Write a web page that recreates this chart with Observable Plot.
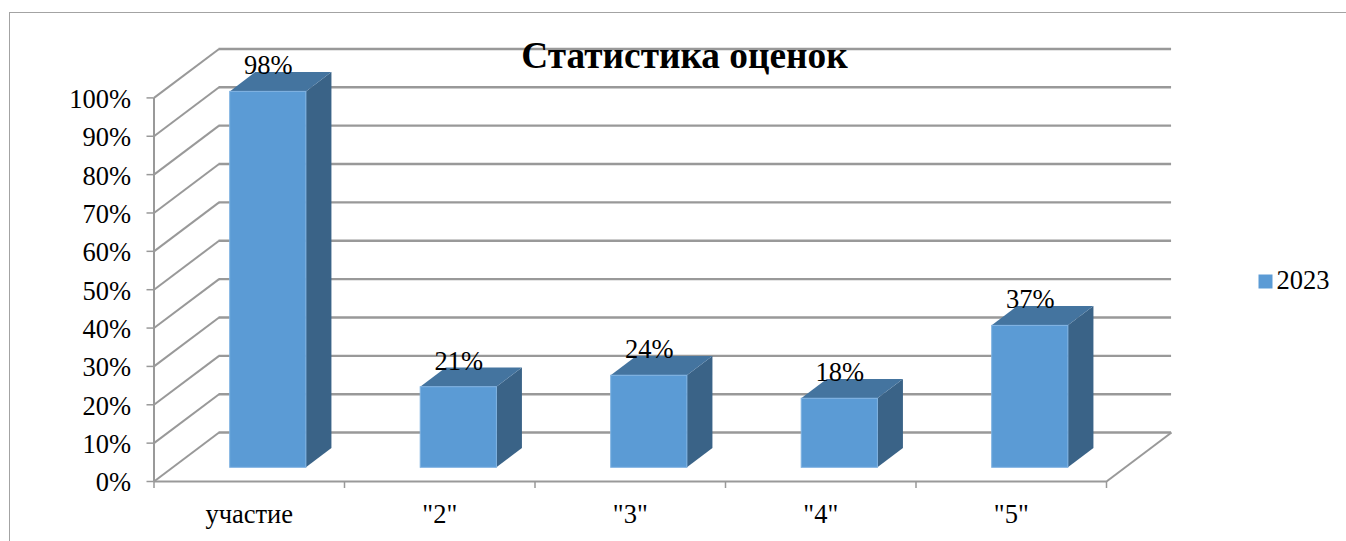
<!DOCTYPE html>
<html lang="ru">
<head>
<meta charset="utf-8">
<script src="https://cdn.jsdelivr.net/npm/d3@7"></script>
<script src="https://cdn.jsdelivr.net/npm/@observablehq/plot@0.6"></script>
<style>
  html, body { margin: 0; padding: 0; background: #fff; overflow: hidden; }
  #frame { position: absolute; left: 9px; top: 12px; right: 0; bottom: 0; border-left: 1.5px solid #a3a3a3; border-top: 1.5px solid #a3a3a3; }
  #chart { position: absolute; left: 0; top: 0; }
  #chart svg { background: transparent; display: block; }
</style>
</head>
<body>
<div id="frame"></div>
<div id="chart"></div>
<script>
const categories = ["участие", "\"2\"", "\"3\"", "\"4\"", "\"5\""];
const values = [98, 21, 24, 18, 37];
const seriesName = "2023";
const chartTitle = "Статистика оценок";
const yTicks = [0, 10, 20, 30, 40, 50, 60, 70, 80, 90, 100];

const font = "'Liberation Serif', 'Times New Roman', serif";
const colFront = "#5b9bd5", colTop = "#44749f", colSide = "#3a6387", colEdge = "#7fb2e2", colGrid = "#999999";

// 3D projection expressed in data units
const wallDx = 0.3415, wallDy = 12.76;   // floor depth
const barDx = 0.134, barDy = 5.03;       // bar depth
const barBase = 3.57, barInset = 0.4, barWidth = 0.4;

const bars = categories.map((c, i) => ({
  cat: c, v: values[i],
  x1: i + barInset, x2: i + barInset + barWidth,
  y1: barBase, y2: barBase + values[i]
}));
const sideFaces = bars.flatMap(b => [
  {cat: b.cat, x: b.x2, y1: b.y1, y2: b.y2},
  {cat: b.cat, x: b.x2 + barDx, y1: b.y1 + barDy, y2: b.y2 + barDy}
]);
const topFaces = bars.flatMap(b => [
  {cat: b.cat, y: b.y2, x1: b.x1, x2: b.x2},
  {cat: b.cat, y: b.y2 + barDy, x1: b.x1 + barDx, x2: b.x2 + barDx}
]);
const n = categories.length;

const plot = Plot.plot({
  width: 1346, height: 541,
  marginLeft: 153.5, marginRight: 240, marginTop: 97.4, marginBottom: 60,
  style: {fontFamily: font, background: "transparent", color: "#000", overflow: "visible"},
  x: {type: "linear", domain: [0, n]},
  y: {domain: [0, 100]},
  marks: [
    // back wall gridlines and side-wall diagonals
    Plot.ruleY(yTicks, {y: d => d + wallDy, x1: wallDx, x2: n + wallDx, stroke: colGrid, strokeWidth: 2.4}),
    Plot.link(yTicks, {x1: 0, y1: d => d, x2: wallDx, y2: d => d + wallDy, stroke: colGrid, strokeWidth: 2}),
    Plot.link([0], {x1: n, y1: 0, x2: n + wallDx, y2: wallDy, stroke: colGrid, strokeWidth: 2}),
    // axis lines
    Plot.ruleX([0], {y1: 0, y2: 100, stroke: colGrid, strokeWidth: 2}),
    Plot.ruleY([0], {x1: 0, x2: n, stroke: colGrid, strokeWidth: 2}),
    Plot.axisY({ticks: yTicks, tickFormat: () => "", tickSize: 7, stroke: colGrid, strokeWidth: 1.5, label: null}),
    Plot.axisY({ticks: yTicks, tickFormat: d => d + "%", tickSize: 0, tickPadding: 23, dy: 1.5, fontSize: 26.5, fill: "#000", label: null, marginLeft: 0}),
    Plot.axisX({ticks: d3.range(0, n + 1), tickFormat: () => "", tickSize: 7, stroke: colGrid, strokeWidth: 1.5, label: null}),
    Plot.axisX({ticks: categories.map((c, i) => i + 0.5), tickFormat: d => categories[d - 0.5], tickSize: 0, tickPadding: 23, fontSize: 26.5, fill: "#000", label: null}),
    // bars
    Plot.areaY(sideFaces, {x: "x", y1: "y1", y2: "y2", z: "cat", fill: colSide}),
    Plot.areaX(topFaces, {y: "y", x1: "x1", x2: "x2", z: "cat", fill: colTop}),
    Plot.rect(bars, {x1: "x1", x2: "x2", y1: "y1", y2: "y2", fill: colFront, stroke: colEdge, strokeWidth: 1}),
    // value labels
    Plot.text(bars, {x: d => (d.x1 + d.x2) / 2, y: "y2", text: d => d.v + "%", dy: -17.5, lineAnchor: "bottom", fontSize: 26.5, fill: "#000"}),
    // title
    Plot.text([chartTitle], {frameAnchor: "top-left", textAnchor: "middle", lineAnchor: "middle", dx: 530.5, dy: -42, fontSize: 37.3, fontWeight: "bold", fill: "#000"}),
    // legend
    Plot.dot([seriesName], {frameAnchor: "top-left", dx: 1111.5, dy: 183.6, symbol: "square", r: 7.9, fill: colFront, stroke: "none"}),
    Plot.text([seriesName], {frameAnchor: "top-left", textAnchor: "start", lineAnchor: "middle", dx: 1122.5, dy: 183, fontSize: 26.5, fill: "#000"})
  ]
});
document.getElementById("chart").appendChild(plot);
</script>
</body>
</html>
